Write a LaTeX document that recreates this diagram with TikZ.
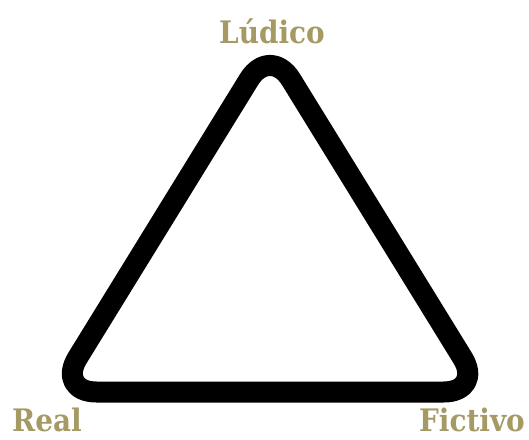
\documentclass[tikz,border=0pt]{standalone}
\usepackage{fontspec}
\setmainfont{DejaVu Serif Condensed}
\usepackage{tikz}

\definecolor{oliva}{RGB}{165,154,100}

\begin{document}
\begin{tikzpicture}[x=1pt, y=-1pt,
  polo/.style={text=oliva, font=\bfseries\fontsize{31}{31}\selectfont, inner sep=0pt},
  lado/.style={line width=21pt, rounded corners=40pt, line join=round}]
\useasboundingbox (0,0) rectangle (529,439);
% triangle
\coordinate (ludA) at (270,45.5);
\coordinate (realB) at (56.5,392);
\coordinate (ficC) at (483.6,392);
\draw[lado] (ludA) -- (ficC) -- (realB) -- cycle;
% labels
\node[polo, anchor=base] (ludico) at (272,43) {Lúdico};
\node[polo, anchor=base west] (real) at (12,431) {Real};
\node[polo, anchor=base east] (fictivo) at (525,431) {Fictivo};
\end{tikzpicture}
\end{document}
